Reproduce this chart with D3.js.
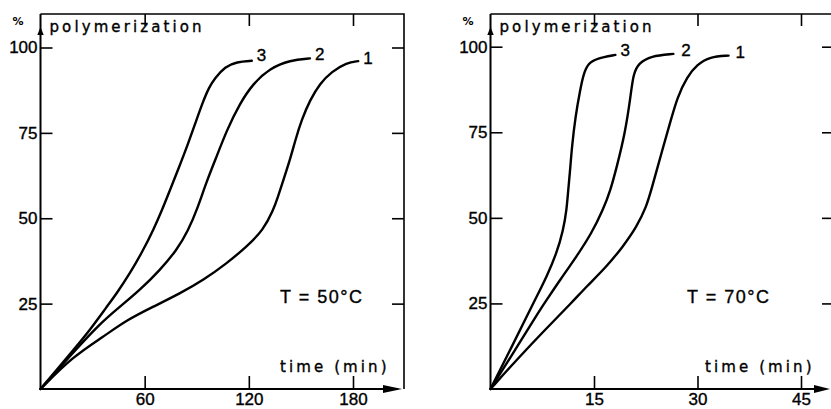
<!DOCTYPE html>
<html><head><meta charset="utf-8">
<script src="https://cdn.jsdelivr.net/npm/d3@7"></script>
<style>
html,body{margin:0;padding:0;background:#fff;}
svg{display:block;}
</style></head><body>
<svg id="c" width="831" height="409"></svg>
<script>
// ---- data ----
const yTicks = [25, 50, 75, 100];
const xTicks50 = [60, 120, 180];
const xTicks70 = [15, 30, 45];
const curveNames = ["1", "2", "3"];
const yLabel = "polymerization";
const xLabel = "time (min)";
const temps = ["T = 50°C", "T = 70°C"];

// 50 °C : [time (min), % polymerization]
const c1_50 = [[0,0],[18.6,9.5],[36.2,15.3],[49.7,20.2],[65,24.1],[80.4,28],[93.8,31.9],[107.3,36.8],[118.8,41.7],[128.4,46.6],[134.1,52.4],[136.6,56],[139.9,61.2],[143.7,67.1],[146.8,72.9],[150.4,78.8],[155.2,84.6],[161,89.5],[167.7,92.9],[176.4,95.6],[183,96]];
const c2_50 = [[0,0],[16.7,9.5],[34.3,19.2],[45.8,24.1],[57.3,29],[68.8,34.8],[78.5,40.7],[85,46.3],[90.5,53],[95.5,60.5],[101,67.5],[107.3,75.8],[114.9,83.7],[122.6,89.5],[132.1,93.9],[143.7,96.3],[155.2,96.8]];
const c3_50 = [[0,0],[9.3,5.6],[18.9,11.4],[28.5,17.3],[38.2,24.1],[43.9,28],[51.6,33.9],[59.2,40.7],[65,46.6],[70,52.4],[75,58.8],[80,65.2],[85,71.8],[89.5,78.3],[93.5,84],[97,88.3],[100.5,91],[106.3,94.4],[113,95.8],[121.7,96.1]];

// 70 °C
const c1_70 = [[0,0],[4,9],[8,17.5],[11.8,25.3],[13.9,29.9],[16.8,35.7],[19.2,41.6],[21.2,47.4],[22.6,53.3],[23.3,58.1],[24.9,69.8],[26,77.6],[27.1,85.4],[28.5,91.2],[29.9,94.7],[31.8,97.1],[34.5,97.4]];
const c2_70 = [[0,0],[3.6,11.5],[7.16,23.1],[8.13,26],[10.06,31.8],[12.47,38.7],[14.65,45.5],[16.3,52.3],[17.4,58.1],[18.3,64.9],[19.5,74.7],[20.3,85.4],[20.7,92.2],[21.5,95.2],[23.2,97.3],[26.5,97.9]];
const c3_70 = [[0,0],[2.9,11.6],[5.72,23.1],[6.69,27],[8.13,32.8],[9.58,39.6],[10.54,46.4],[11.03,52.3],[11.26,58.1],[11.5,63],[11.8,70.8],[12.3,79.5],[13,87.4],[13.5,92.2],[14.2,95.2],[15.4,96.6],[18.1,97.6]];

// ---- layout ----
const panels = [
  {xMax:180, xTicks:xTicks50, curves:[c1_50,c2_50,c3_50], temp:temps[0],
   left:40.5, x1:353, right:404, top:14, bottom:389, yTop:47.5, tip:402, arrowLen:19,
   tempX:280, xLabX:280, labelDx:[5,5,5], labelDy:[3,2,0]},
  {xMax:45, xTicks:xTicks70, curves:[c1_70,c2_70,c3_70], temp:temps[1],
   left:490.5, x1:801, right:834, top:14, bottom:389, yTop:46.7, tip:830, arrowLen:16,
   tempX:687, xLabX:705, labelDx:[7,8,5], labelDy:[2,2,1]}
];

const svg = d3.select("#c");
const sansFont = "'DejaVu Sans', sans-serif";
const numFont = "'Liberation Sans', Arial, sans-serif";

panels.forEach(p => {
  const x = d3.scaleLinear().domain([0, p.xMax]).range([p.left, p.x1]);
  const y = d3.scaleLinear().domain([0, 100]).range([p.bottom, p.yTop]);
  const g = svg.append("g");

  // frame (top and right)
  g.append("path")
    .attr("d", `M${p.left},${p.top}H${p.right}V${p.bottom}`)
    .attr("fill","none").attr("stroke","#000").attr("stroke-width",1.6);
  // axes
  g.append("path")
    .attr("d", `M${p.left},${p.bottom}V${p.top}`)
    .attr("stroke","#000").attr("stroke-width",2);
  g.append("path")
    .attr("d", `M${p.left},${p.bottom}H${p.tip - 4}`)
    .attr("stroke","#000").attr("stroke-width",2);
  // arrows
  g.append("path")
    .attr("d", `M${p.tip},${p.bottom}L${p.tip - p.arrowLen},${p.bottom - 4}L${p.tip - p.arrowLen},${p.bottom + 4}Z`)
    .attr("fill","#000");
  g.append("path")
    .attr("d", `M${p.left},${p.top + 13}L${p.left - 3.2},${p.top + 21}L${p.left + 3.2},${p.top + 21}Z`)
    .attr("fill","#000");

  // left ticks + labels
  const ax = g.append("g").attr("transform", `translate(${p.left},0)`)
    .call(d3.axisLeft(y).tickValues(yTicks).tickSize(-12).tickPadding(3));
  ax.select(".domain").remove();
  // right ticks
  const ar = g.append("g").attr("transform", `translate(${p.right},0)`)
    .call(d3.axisRight(y).tickValues(yTicks).tickSize(-12).tickFormat(""));
  ar.select(".domain").remove();
  // bottom ticks + labels
  const ab = g.append("g").attr("transform", `translate(0,${p.bottom})`)
    .call(d3.axisBottom(x).tickValues(p.xTicks).tickSize(-13).tickPadding(4));
  ab.select(".domain").remove();
  // top ticks
  const at = g.append("g").attr("transform", `translate(0,${p.top})`)
    .call(d3.axisTop(x).tickValues(p.xTicks).tickSize(-12).tickFormat(""));
  at.select(".domain").remove();

  g.selectAll(".tick line").attr("stroke","#000").attr("stroke-width",1.6);
  g.selectAll(".tick text").attr("fill","#000").attr("stroke","#000").attr("stroke-width",0.35)
    .style("font-family", numFont).style("font-size","17px");

  // curves
  const line = d3.line().x(d => x(d[0])).y(d => y(d[1])).curve(d3.curveBasis);
  p.curves.forEach((c, i) => {
    g.append("path").datum(c).attr("d", line)
      .attr("fill","none").attr("stroke","#000").attr("stroke-width",2.4)
      .attr("stroke-linecap","round");
    const last = c[c.length - 1];
    g.append("text")
      .attr("x", x(last[0]) + p.labelDx[i])
      .attr("y", y(last[1]) + p.labelDy[i])
      .attr("font-family", numFont).attr("font-size", 17).attr("fill","#000")
      .attr("stroke","#000").attr("stroke-width",0.35)
      .text(curveNames[i]);
  });

  // texts
  g.append("text").attr("x", p.left - 28).attr("y", 25)
    .attr("font-family", sansFont).attr("font-size", 11).attr("font-weight","bold")
    .text("%");
  g.append("text").attr("x", p.left + 9).attr("y", 32)
    .attr("font-family", sansFont).attr("font-size", 15).style("letter-spacing","3.1px")
    .attr("stroke","#000").attr("stroke-width",0.35)
    .text(yLabel);
  g.append("text").attr("x", p.xLabX).attr("y", p.bottom - 17)
    .attr("font-family", sansFont).attr("font-size", 15).style("letter-spacing","3.1px")
    .attr("stroke","#000").attr("stroke-width",0.35)
    .text(xLabel);
  g.append("text").attr("x", p.tempX).attr("y", 303)
    .attr("font-family", numFont).attr("font-size", 18).style("letter-spacing","1.5px")
    .attr("stroke","#000").attr("stroke-width",0.35)
    .text(p.temp);
});
</script>
</body></html>
